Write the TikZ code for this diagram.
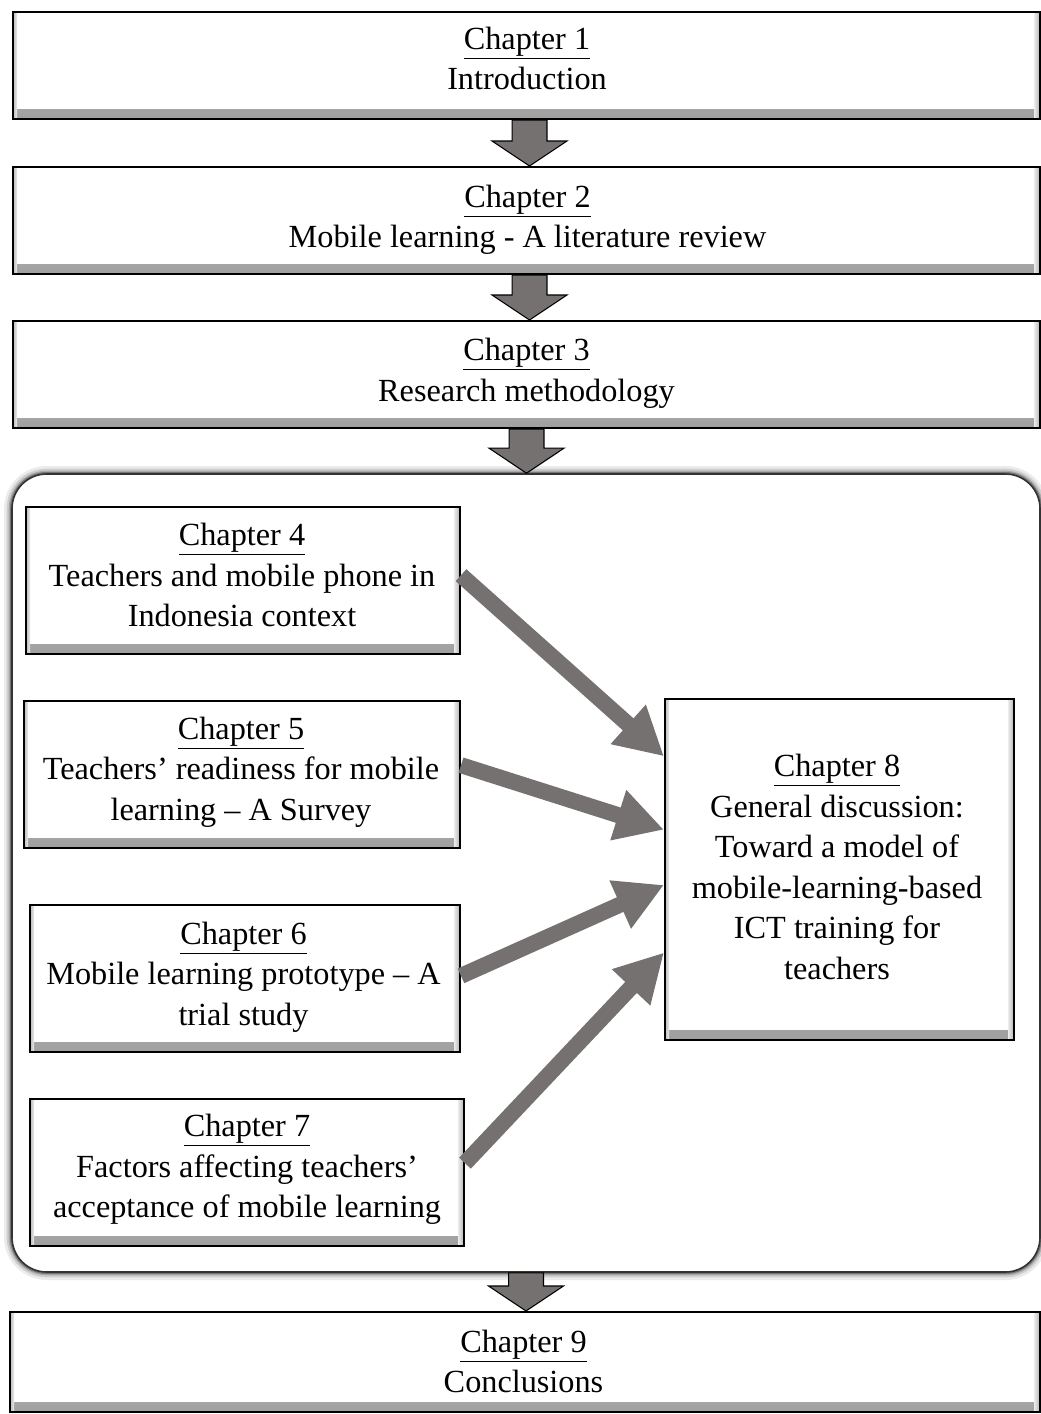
\documentclass[tikz,border=0pt]{standalone}
\usepackage{fontspec}
\setmainfont{Liberation Serif}
\usetikzlibrary{arrows.meta,calc}
\definecolor{arrowgray}{HTML}{767171}

% soft inner bevel gradients
\pgfdeclareverticalshading{bevelbottom}{100bp}{color(0bp)=(black!50); color(100bp)=(white)}
\pgfdeclarehorizontalshading{bevelleft}{100bp}{color(0bp)=(black!35); color(100bp)=(white)}
\pgfdeclarehorizontalshading{bevelright}{100bp}{color(0bp)=(white); color(100bp)=(black!40)}

\tikzset{
  chapbox/.style={draw=black, line width=1.5pt, fill=white, inner sep=0pt,
    path picture={
      \fill[shading=bevelbottom]
        ([yshift=7.5pt]path picture bounding box.south west) rectangle (path picture bounding box.south east);
      \fill[shading=bevelleft]
        (path picture bounding box.north west) rectangle ([xshift=3pt]path picture bounding box.south west);
      \fill[shading=bevelright]
        ([xshift=-4pt]path picture bounding box.north east) rectangle (path picture bounding box.south east);
    }},
  wide/.style={chapbox, minimum width=1027*0.75pt, minimum height=107*0.75pt},
  small/.style={chapbox, minimum height=147*0.75pt},
  txt/.style={align=center, inner sep=0pt, font=\fontsize{24.2}{30.4}\selectfont},
  feed/.style={draw=arrowgray, line width=12pt,
    -{Triangle[length=36pt, width=37pt, fill=arrowgray]}},
  blockarrow/.style={draw=black, line width=0.8pt, fill=arrowgray, line join=miter}
}

\begin{document}
\begin{tikzpicture}[x=0.75pt, y=-0.75pt]
\useasboundingbox (0,0) rectangle (1041,1414);

% container with soft glow
\foreach \w/\o in {12/0.08, 8/0.12, 5/0.18, 3/0.3}
  \draw[line width=\w pt, black, opacity=\o, rounded corners=26pt] (12,474) rectangle (1040,1272);
\node[draw=black!80, line width=1.2pt, rounded corners=26pt, minimum width=1028*0.75pt,
      minimum height=798*0.75pt, fill=white] (group) at (526,873) {};

% top chain
\node[wide] (c1) at (526.5,65.5) {};
\node[txt] (c1t) at (527,58.5) {\underline{Chapter 1}\\Introduction};
\node[wide] (c2) at (526.5,220.5) {};
\node[txt] (c2t) at (527.5,220) {\underline{Chapter 2}\\Mobile learning - A literature review};
\node[wide] (c3) at (526.5,374.5) {};
\node[txt] (c3t) at (526.5,373.5) {\underline{Chapter 3}\\Research methodology};

% empirical chapters
\node[small, minimum width=434*0.75pt] (c4) at (243,580.5) {};
\node[txt] (c4t) at (242,575) {\underline{Chapter 4}\\Teachers and mobile phone in\\Indonesia context};
\node[small, minimum width=436*0.75pt] (c5) at (242,774.5) {};
\node[txt] (c5t) at (241,772) {\underline{Chapter 5}\\Teachers’ readiness for mobile\\learning – A Survey};
\node[small, minimum width=430*0.75pt] (c6) at (245,978.5) {};
\node[txt] (c6t) at (243.5,977) {\underline{Chapter 6}\\Mobile learning prototype – A\\trial study};
\node[small, minimum width=434*0.75pt] (c7) at (247,1172.5) {};
\node[txt] (c7t) at (247,1169.5) {\underline{Chapter 7}\\Factors affecting teachers’\\acceptance of mobile learning};
\node[chapbox, minimum width=349*0.75pt, minimum height=341*0.75pt] (c8) at (839.5,869.5) {};
\node[txt] (c8t) at (837,867) {\underline{Chapter 8}\\General discussion:\\Toward a model of\\mobile-learning-based\\ICT training for\\teachers};

\node[chapbox, minimum width=1030*0.75pt, minimum height=100*0.75pt] (c9) at (525,1362) {};
\node[txt] (c9t) at (523.5,1361.5) {\underline{Chapter 9}\\Conclusions};

% feeds into chapter 8
\draw[feed] ([yshift=4pt]c4.east) -- ($(c8.north west)!0.17!(c8.south west)$);
\draw[feed] ([yshift=7pt]c5.east) -- ($(c8.north west)!0.384!(c8.south west)$);
\draw[feed] ([yshift=2pt]c6.east) -- ($(c8.north west)!0.545!(c8.south west)$);
\draw[feed] ([yshift=7pt]c7.east) -- ($(c8.north west)!0.742!(c8.south west)$);

% block arrows between stages
\foreach \a/\b/\dx in {c1/c2/3, c2/c3/3, c3/group/0, group/c9/0} {
  \draw[blockarrow] let \p1=(\a.south), \p2=(\b.north) in
    (\x1+\dx*0.75pt-13.1pt,\y1) -- (\x1+\dx*0.75pt+13.1pt,\y1)
    -- (\x1+\dx*0.75pt+13.1pt,\y2+18.75pt) -- (\x1+\dx*0.75pt+28.1pt,\y2+18.75pt)
    -- (\x1+\dx*0.75pt,\y2) -- (\x1+\dx*0.75pt-28.1pt,\y2+18.75pt)
    -- (\x1+\dx*0.75pt-13.1pt,\y2+18.75pt) -- cycle;
}
\end{tikzpicture}
\end{document}
